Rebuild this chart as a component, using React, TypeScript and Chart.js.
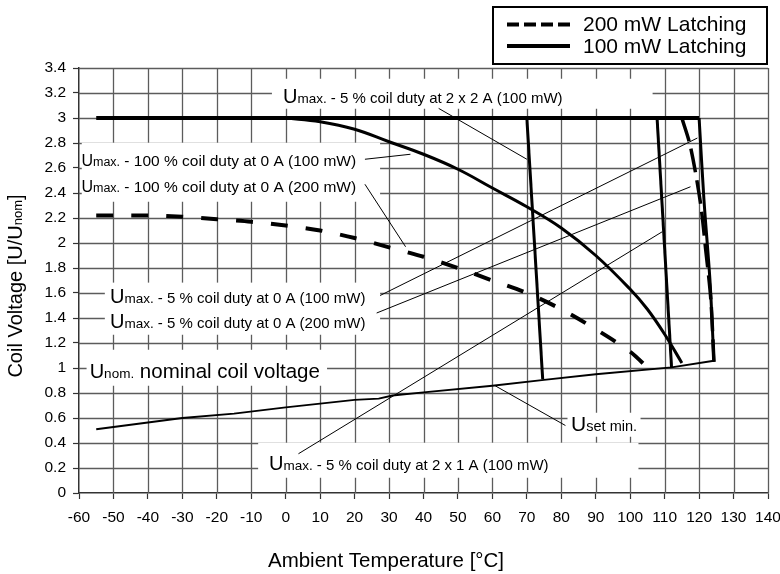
import React, { useEffect, useRef } from "react";
import { Chart, registerables } from "chart.js";

Chart.register(...registerables);

const FONT = "'Liberation Sans', Arial, sans-serif";

// ---- axes ----
const xTicks = [-60, -50, -40, -30, -20, -10, 0, 10, 20, 30, 40, 50, 60, 70, 80, 90, 100, 110, 120, 130, 140];
const yTicks = [0, 0.2, 0.4, 0.6, 0.8, 1, 1.2, 1.4, 1.6, 1.8, 2, 2.2, 2.4, 2.6, 2.8, 3, 3.2, 3.4];
const xTitle = "Ambient Temperature [°C]";
const yTitleMain = "Coil Voltage [U/U";
const yTitleSub = "nom";

// ---- legend ----
const seriesNames = ["200 mW Latching", "100 mW Latching"];

// ---- 200 mW Latching (dashed) ----
const dash200Low: [number, number][] = [
  [-55, 2.22], [-40, 2.22], [-30, 2.21], [-20, 2.19], [-10, 2.17], [0, 2.14], [10, 2.1],
  [20, 2.04], [30, 1.965], [40, 1.89], [50, 1.8], [60, 1.7], [70, 1.6], [80, 1.47],
  [90, 1.31], [100, 1.13], [105.5, 0.99],
];
const dash200Right: [number, number][] = [
  [115, 3.0], [117.5, 2.77], [120.4, 2.32], [121.9, 1.95], [123.4, 1.55], [124.3, 1.05],
];

// ---- 100 mW Latching (solid) ----
const solid100Top: [number, number][] = [[-55, 3.0], [120, 3.0]];
const solid100Curve: [number, number][] = [
  [0, 3.0], [10, 2.97], [20, 2.91], [30, 2.81], [40, 2.71], [50, 2.59], [60, 2.44],
  [70, 2.29], [80, 2.12], [90, 1.9], [100, 1.63], [105, 1.47], [110, 1.27], [115, 1.04],
];
const solid100At2x2A: [number, number][] = [[70, 3.0], [74.6, 0.91]];
const solid100At2x1A: [number, number][] = [[107.8, 3.0], [112, 1.005]];
const solid100Right: [number, number][] = [[120, 3.0], [121.4, 2.35], [123.2, 1.68], [124.3, 1.05]];

// ---- U set min. ----
const usetMin: [number, number][] = [
  [-55, 0.51], [-30, 0.6], [-15, 0.635], [0, 0.685], [20, 0.745], [27, 0.755], [31, 0.78],
  [40, 0.805], [60, 0.858], [75, 0.905], [90, 0.95], [112, 1.005], [124.3, 1.058],
];

// ---- leader lines of the annotations ----
const leader2x2A: [number, number][] = [[44.4, 3.077], [70, 2.67]];
const leader100pc100: [number, number][] = [[23, 2.67], [36.2, 2.71]];
const leader100pc200: [number, number][] = [[23, 2.47], [34.8, 1.97]];
const leader5pc100: [number, number][] = [[27.4, 1.58], [119.5, 2.84]];
const leader5pc200: [number, number][] = [[26.4, 1.44], [117.5, 2.45]];
const leader2x1A: [number, number][] = [[3.7, 0.314], [109.3, 2.09]];
const leaderUset: [number, number][] = [[60.8, 0.858], [81.2, 0.54]];

// ---- annotation texts: [x, baseline y] in data units, and parts ----
type Part = { t: string; s: number };
const annotations: { at: [number, number]; parts: Part[] }[] = [
  { at: [-0.8, 3.122], parts: [{ t: "U", s: 20 }, { t: "max.", s: 13.5 }, { t: " - 5 % coil duty at 2 x 2 A (100 mW)", s: 15 }] },
  { at: [-59.3, 2.613], parts: [{ t: "U", s: 16 }, { t: "max.", s: 12.5 }, { t: " - 100 % coil duty at 0 A (100 mW)", s: 15.5 }] },
  { at: [-59.3, 2.408], parts: [{ t: "U", s: 16 }, { t: "max.", s: 12.5 }, { t: " - 100 % coil duty at 0 A (200 mW)", s: 15.5 }] },
  { at: [-51.0, 1.522], parts: [{ t: "U", s: 20 }, { t: "max.", s: 13.5 }, { t: " - 5 % coil duty at 0 A (100 mW)", s: 15 }] },
  { at: [-51.0, 1.322], parts: [{ t: "U", s: 20 }, { t: "max.", s: 13.5 }, { t: " - 5 % coil duty at 0 A (200 mW)", s: 15 }] },
  { at: [-56.9, 0.922], parts: [{ t: "U", s: 20 }, { t: "nom.", s: 13.5 }, { t: " nominal coil voltage", s: 20.5 }] },
  { at: [-4.85, 0.181], parts: [{ t: "U", s: 20 }, { t: "max.", s: 13.5 }, { t: " - 5 % coil duty at 2 x 1 A (100 mW)", s: 15 }] },
  { at: [82.85, 0.493], parts: [{ t: "U", s: 21 }, { t: "set min.", s: 14.5 }] },
];

// white backgrounds behind annotation texts: [x1, y1, x2, y2] in data units
const textBoxes: [number, number, number, number][] = [
  [-4, 3.314, 106.5, 3.074],
  [-59.2, 2.802, 27.4, 2.33],
  [-52.5, 1.683, 27.4, 1.266],
  [-57.8, 1.146, 12.0, 0.858],
  [-8, 0.402, 102.4, 0.122],
  [81.8, 0.642, 103, 0.45],
];

const pts = (a: [number, number][]) => a.map(([x, y]) => ({ x, y }));

const GRID_COLOR = "#5c5c5c";

const overlayPlugin = {
  id: "overlay",
  beforeDatasetsDraw(chart: any) {
    const { ctx, scales, chartArea } = chart;
    const sx = scales.x, sy = scales.y;
    ctx.save();
    // grid lines
    ctx.strokeStyle = GRID_COLOR;
    ctx.lineWidth = 1.3;
    ctx.beginPath();
    for (const v of xTicks) {
      if (v === sx.min) continue;
      const px = Math.round(sx.getPixelForValue(v)) + 0.5;
      ctx.moveTo(px, chartArea.top);
      ctx.lineTo(px, chartArea.bottom);
    }
    for (const v of yTicks) {
      if (v === sy.min) continue;
      const py = Math.round(sy.getPixelForValue(v)) + 0.5;
      ctx.moveTo(chartArea.left, py);
      ctx.lineTo(chartArea.right, py);
    }
    ctx.stroke();
    // white boxes behind texts
    ctx.fillStyle = "#ffffff";
    for (const [x1, y1, x2, y2] of textBoxes) {
      const px1 = sx.getPixelForValue(x1), px2 = sx.getPixelForValue(x2);
      const py1 = sy.getPixelForValue(y1), py2 = sy.getPixelForValue(y2);
      ctx.fillRect(px1, py1, px2 - px1, py2 - py1);
    }
    ctx.restore();
  },
  afterDatasetsDraw(chart: any) {
    const { ctx, scales } = chart;
    const sx = scales.x, sy = scales.y;
    ctx.save();
    ctx.fillStyle = "#000";
    ctx.textBaseline = "alphabetic";
    ctx.textAlign = "left";
    for (const a of annotations) {
      let cx = sx.getPixelForValue(a.at[0]);
      const cy = sy.getPixelForValue(a.at[1]);
      for (const p of a.parts) {
        ctx.font = `${p.s}px ${FONT}`;
        ctx.fillText(p.t, cx, cy);
        cx += ctx.measureText(p.t).width;
      }
    }
    ctx.restore();
  },
  afterDraw(chart: any) {
    const { ctx, chartArea } = chart;
    ctx.save();
    ctx.fillStyle = "#000";
    ctx.strokeStyle = "#000";
    // x title
    ctx.font = `20.5px ${FONT}`;
    ctx.textAlign = "center";
    ctx.textBaseline = "alphabetic";
    ctx.fillText(xTitle, 386, 567);
    // y title
    ctx.save();
    ctx.translate(15, 286);
    ctx.rotate(-Math.PI / 2);
    ctx.textAlign = "left";
    ctx.font = `20px ${FONT}`;
    const w1 = ctx.measureText(yTitleMain).width;
    ctx.font = `13px ${FONT}`;
    const w2 = ctx.measureText(yTitleSub).width;
    ctx.font = `20px ${FONT}`;
    const w3 = ctx.measureText("]").width;
    let x0 = -(w1 + w2 + w3) / 2;
    ctx.fillText(yTitleMain, x0, 7);
    x0 += w1;
    ctx.font = `13px ${FONT}`;
    ctx.fillText(yTitleSub, x0, 7);
    x0 += w2;
    ctx.font = `20px ${FONT}`;
    ctx.fillText("]", x0, 7);
    ctx.restore();
    // legend
    const lx1 = 493, lx2 = chartArea.right - 1, ly1 = 7, ly2 = 64;
    ctx.fillStyle = "#fff";
    ctx.fillRect(lx1, ly1, lx2 - lx1, ly2 - ly1);
    ctx.lineWidth = 2;
    ctx.strokeStyle = "#000";
    ctx.strokeRect(lx1, ly1, lx2 - lx1, ly2 - ly1);
    ctx.lineWidth = 4;
    ctx.setLineDash([12, 5]);
    ctx.beginPath();
    ctx.moveTo(507, 24.5);
    ctx.lineTo(570, 24.5);
    ctx.stroke();
    ctx.setLineDash([]);
    ctx.beginPath();
    ctx.moveTo(507, 46);
    ctx.lineTo(570, 46);
    ctx.stroke();
    ctx.fillStyle = "#000";
    ctx.font = `21px ${FONT}`;
    ctx.textAlign = "left";
    ctx.fillText(seriesNames[0], 583, 31);
    ctx.fillText(seriesNames[1], 583, 53);
    ctx.restore();
  },
};

function line(data: [number, number][], width: number, dash: number[] = [], tension = 0, label = "") {
  return {
    label,
    data: pts(data),
    borderColor: "#000",
    backgroundColor: "#000",
    borderWidth: width,
    borderDash: dash,
    pointRadius: 0,
    fill: false,
    tension,
    borderCapStyle: "butt",
  };
}

export default function App() {
  const ref = useRef<HTMLCanvasElement | null>(null);
  useEffect(() => {
    if (!ref.current) return;
    const chart = new Chart(ref.current, {
      type: "line",
      data: {
        datasets: [
          line(leader2x2A, 1),
          line(leader100pc100, 1),
          line(leader100pc200, 1),
          line(leader5pc100, 1),
          line(leader5pc200, 1),
          line(leader2x1A, 1),
          line(leaderUset, 1),
          line(usetMin, 2),
          line(dash200Low, 4, [17, 18], 0.3, seriesNames[0]),
          line(dash200Right, 3.5, [24, 8], 0.3, seriesNames[0]),
          line(solid100Top, 4, [], 0, seriesNames[1]),
          line(solid100Curve, 3, [], 0.4, seriesNames[1]),
          line(solid100At2x2A, 3, [], 0, seriesNames[1]),
          line(solid100At2x1A, 3, [], 0, seriesNames[1]),
          line(solid100Right, 3, [], 0.3, seriesNames[1]),
        ] as any,
      },
      options: {
        animation: false,
        responsive: false,
        devicePixelRatio: 1,
        layout: { padding: { top: 68, right: 12, left: 0, bottom: 0 } },
        plugins: { legend: { display: false }, tooltip: { enabled: false } },
        scales: {
          x: {
            type: "linear",
            min: -60,
            max: 140,
            afterBuildTicks: (s: any) => { s.ticks = xTicks.map((v) => ({ value: v })); },
            afterFit: (s: any) => { s.height = 81; s.paddingLeft = 0; s.paddingRight = 0; },
            ticks: {
              autoSkip: false,
              maxRotation: 0,
              color: "#000",
              padding: 9,
              font: { family: FONT, size: 15.5 },
              callback: (v: any) => String(v),
            },
            grid: { drawOnChartArea: false, tickLength: 6, tickColor: "#333", tickWidth: 1.2 },
            border: { color: "#333", width: 1.5 },
          },
          y: {
            type: "linear",
            min: 0,
            max: 3.4,
            afterBuildTicks: (s: any) => { s.ticks = yTicks.map((v) => ({ value: v })); },
            afterFit: (s: any) => { s.width = 79; s.paddingTop = 0; s.paddingBottom = 0; },
            ticks: {
              autoSkip: false,
              color: "#000",
              padding: 7,
              font: { family: FONT, size: 15.5 },
              callback: (v: any) => String(Math.round(Number(v) * 10) / 10),
            },
            grid: { drawOnChartArea: false, tickLength: 6, tickColor: "#333", tickWidth: 1.2 },
            border: { color: "#333", width: 1.5 },
          },
        },
      },
      plugins: [overlayPlugin],
    } as any);
    return () => chart.destroy();
  }, []);
  return (
    <div style={{ position: "absolute", left: 0, top: 0, width: 780, height: 574, background: "#fff" }}>
      <canvas ref={ref} width={780} height={574} style={{ display: "block" }} />
    </div>
  );
}
